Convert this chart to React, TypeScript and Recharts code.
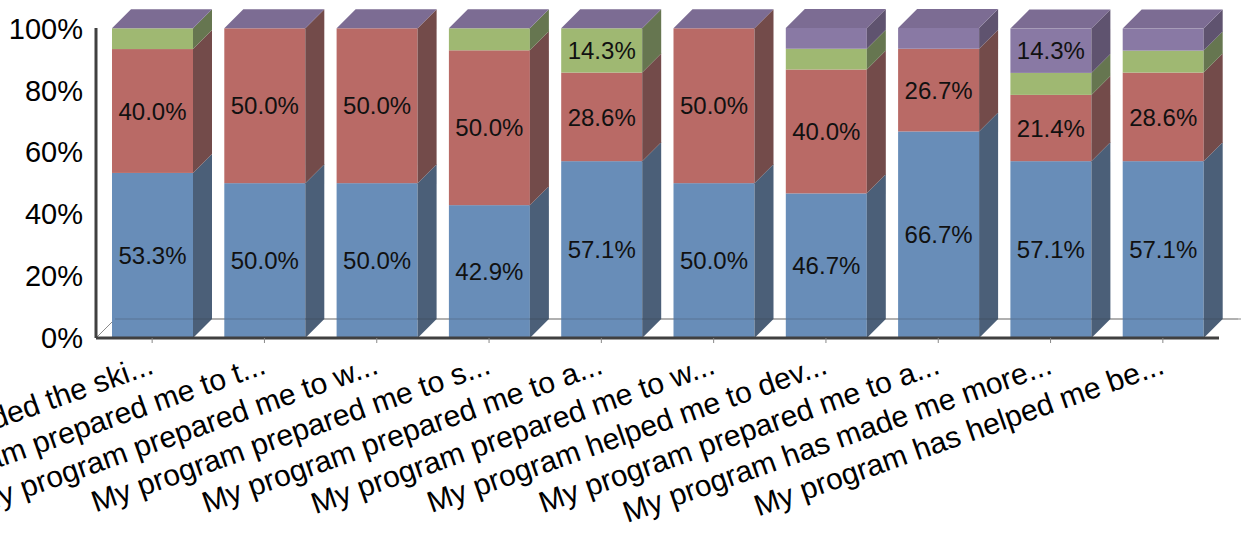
import React from 'react';
import { BarChart, Bar, XAxis, YAxis } from 'recharts';

const categories = [
  'My program provided the ski...',
  'My program prepared me to t...',
  'My program prepared me to w...',
  'My program prepared me to s...',
  'My program prepared me to a...',
  'My program prepared me to w...',
  'My program helped me to dev...',
  'My program prepared me to a...',
  'My program has made me more...',
  'My program has helped me be...',
];
const blueValues = [53.3, 50.0, 50.0, 42.9, 57.1, 50.0, 46.7, 66.7, 57.1, 57.1];
const redValues = [40.0, 50.0, 50.0, 50.0, 28.6, 50.0, 40.0, 26.7, 21.4, 28.6];
const greenValues = [6.7, 0, 0, 7.1, 14.3, 0, 6.7, 0, 7.1, 7.1];
const purpleValues = [0, 0, 0, 0, 0, 0, 6.7, 6.7, 14.3, 7.1];
const yTicks = [0, 20, 40, 60, 80, 100];

const seriesKeys = ['s1', 's2', 's3', 's4'];
const frontColors = ['#688db8', '#b96a66', '#9fb872', '#8979a4'];
const sideColors = ['#4b5f78', '#734b4a', '#667650', '#5f536f'];
const TOP_COLOR = '#7c6c93';

const data = categories.map((name, i) => ({
  name,
  s1: blueValues[i],
  s2: redValues[i],
  s3: greenValues[i],
  s4: purpleValues[i],
}));

const FONT = '"Liberation Sans", Arial, sans-serif';
const W = 1241;
const H = 533;
const MARGIN = { top: 28, right: 22, bottom: 155, left: 0 };
const Y_AXIS_W = 96;
const X_AXIS_H = 40;
const DX = 19;
const DY = 19;
const BAR_SIZE = 81;

const plotLeft = MARGIN.left + Y_AXIS_W;
const plotRight = W - MARGIN.right;
const plotBottom = H - MARGIN.bottom - X_AXIS_H;

const makeShape = (si: number) => (props: any) => {
  const { x, y, width, height, payload } = props;
  if (x == null || y == null || isNaN(x) || isNaN(y)) return <g />;
  const h = Math.max(0, height || 0);
  const vals = seriesKeys.map((k) => payload[k] as number);
  const own = vals[si];
  const isTop = own > 0 && vals.slice(si + 1).every((v) => !v);
  const w = width;
  return (
    <g>
      {h > 0 && <rect x={x} y={y} width={w} height={h} fill={frontColors[si]} />}
      {h > 0 && (
        <polygon
          points={`${x + w},${y} ${x + w + DX},${y - DY} ${x + w + DX},${y + h - DY} ${x + w},${y + h}`}
          fill={sideColors[si]}
        />
      )}
      {isTop && (
        <polygon
          points={`${x},${y} ${x + DX},${y - DY} ${x + w + DX},${y - DY} ${x + w},${y}`}
          fill={TOP_COLOR}
        />
      )}
      {own >= 10 && (
        <text
          x={x + w / 2}
          y={y + h / 2}
          dy="0.36em"
          textAnchor="middle"
          fontSize={24}
          fontFamily={FONT}
          fill="#111"
        >
          {own.toFixed(1)}%
        </text>
      )}
    </g>
  );
};

const CategoryTick = (props: any) => {
  const { x, y, payload } = props;
  const ax = x + 3;
  const ay = y + 30;
  return (
    <text
      x={ax}
      y={ay}
      transform={`rotate(-19.4 ${ax} ${ay})`}
      textAnchor="end"
      fontSize={30}
      fontFamily={FONT}
      fill="#000"
    >
      {payload.value}
    </text>
  );
};

export default function App() {
  return (
    <div style={{ position: 'absolute', left: 0, top: 0, width: W, height: H, background: '#fff' }}>
      <svg width={W} height={H} style={{ position: 'absolute', left: 0, top: 0 }}>
        <line x1={plotLeft + DX} y1={plotBottom - DY} x2={W} y2={plotBottom - DY} stroke="#8a8a8a" strokeWidth={1.2} />
        <line x1={plotLeft} y1={plotBottom} x2={plotLeft + DX} y2={plotBottom - DY} stroke="#8a8a8a" strokeWidth={1} />
      </svg>
      <div style={{ position: 'absolute', left: 0, top: 0 }}>
        <BarChart width={W} height={H} data={data} margin={MARGIN}>
          <YAxis
            width={Y_AXIS_W}
            domain={[0, 100]}
            ticks={yTicks}
            tickFormatter={(v: number) => `${v}%`}
            tickLine={false}
            tickSize={13}
            tickMargin={0}
            axisLine={{ stroke: '#404040', strokeWidth: 3 }}
            tick={{ fontSize: 29, fill: '#000', fontFamily: FONT }}
          />
          <XAxis
            dataKey="name"
            height={X_AXIS_H}
            interval={0}
            tickSize={5}
            tickMargin={0}
            tickLine={{ stroke: '#888' }}
            axisLine={{ stroke: '#404040', strokeWidth: 3 }}
            tick={<CategoryTick />}
          />
          {seriesKeys.map((k, si) => (
            <Bar
              key={k}
              dataKey={k}
              stackId="a"
              barSize={BAR_SIZE}
              fill={frontColors[si]}
              isAnimationActive={false}
              shape={makeShape(si)}
            />
          ))}
        </BarChart>
      </div>
      <svg width={W} height={H} style={{ position: 'absolute', left: 0, top: 0, pointerEvents: 'none' }}>
        <line x1={plotLeft + DX} y1={plotBottom - DY} x2={plotRight + DX} y2={plotBottom - DY} stroke="rgba(40,40,40,0.25)" strokeWidth={1.2} />
      </svg>
    </div>
  );
}
